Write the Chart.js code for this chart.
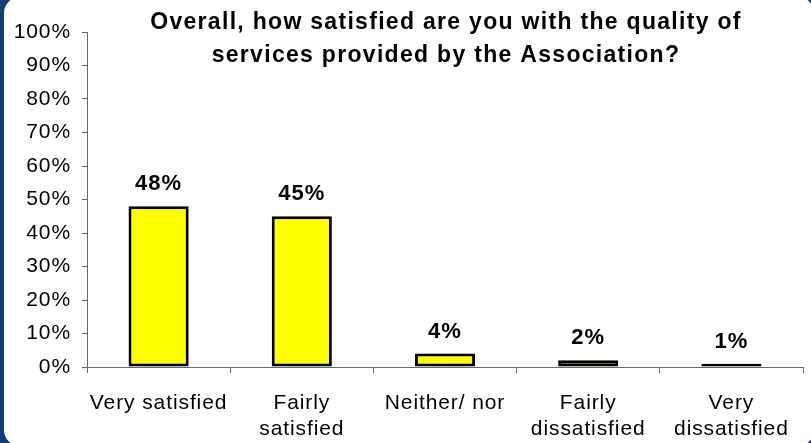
<!DOCTYPE html>
<html>
<head>
<meta charset="utf-8">
<script src="https://cdn.jsdelivr.net/npm/chart.js@4"></script>
<style>
  html, body { margin: 0; padding: 0; }
  body { width: 811px; height: 443px; background: #0f3d75; position: relative; overflow: hidden; }
  #panel { position: absolute; left: 4px; top: -3px; width: 810px; height: 449px; background: #ffffff; border-radius: 16px; }
  #wrap { position: absolute; left: 0; top: 0; width: 811px; height: 443px; }
</style>
</head>
<body>
<div id="panel"></div>
<div id="wrap"><canvas id="chart" width="811" height="443"></canvas></div>
<script>
const categories = [
  'Very satisfied',
  ['Fairly', 'satisfied'],
  'Neither/ nor',
  ['Fairly', 'dissatisfied'],
  ['Very', 'dissatisfied']
];
const shares = [48, 45, 4, 2, 1];
const yTicks = [0, 10, 20, 30, 40, 50, 60, 70, 80, 90, 100];
const titleLines = [
  'Overall, how satisfied are you with the quality of',
  'services provided by the Association?'
];

const FONT = '"Liberation Sans", Arial, sans-serif';

// Slightly open letter spacing for all chart text
const spacing = {
  id: 'spacing',
  beforeDraw(chart) {
    chart.ctx.letterSpacing = '0.9px';
  }
};

// Bold percentage above each bar, taken from the bar's own value
const valueLabels = {
  id: 'valueLabels',
  afterDatasetsDraw(chart) {
    const ctx = chart.ctx;
    const meta = chart.getDatasetMeta(0);
    ctx.save();
    ctx.letterSpacing = '1px';
    ctx.font = 'bold 22px ' + FONT;
    ctx.fillStyle = '#000';
    ctx.textAlign = 'center';
    ctx.textBaseline = 'alphabetic';
    meta.data.forEach((bar, i) => {
      ctx.fillText(shares[i] + '%', bar.x, bar.y - 16);
    });
    ctx.restore();
  }
};

// Two-line heading drawn over the upper part of the plot
const heading = {
  id: 'heading',
  afterDraw(chart) {
    const ctx = chart.ctx;
    const area = chart.chartArea;
    const cx = (area.left + area.right) / 2;
    ctx.save();
    ctx.letterSpacing = '1.3px';
    ctx.font = 'bold 23px ' + FONT;
    ctx.fillStyle = '#000';
    ctx.textAlign = 'center';
    ctx.textBaseline = 'alphabetic';
    ctx.fillText(titleLines[0], cx + 1, 29);
    ctx.fillText(titleLines[1], cx + 1, 62);
    ctx.restore();
  }
};

new Chart(document.getElementById('chart'), {
  type: 'bar',
  data: {
    labels: categories,
    datasets: [{
      data: shares,
      backgroundColor: '#ffff00',
      borderColor: '#000000',
      borderWidth: 3,
      borderSkipped: false,
      barPercentage: 0.84,
      categoryPercentage: 0.5
    }]
  },
  options: {
    responsive: false,
    animation: false,
    layout: { padding: { left: 0, right: 8, top: 32, bottom: 0 } },
    plugins: {
      legend: { display: false },
      title: { display: false },
      tooltip: { enabled: false }
    },
    scales: {
      x: {
        grid: { display: true, drawOnChartArea: false, drawTicks: true, tickLength: 6, color: '#666', offset: true },
        border: { display: true, color: '#666', width: 1 },
        ticks: {
          color: '#000',
          font: { family: FONT, size: 21, lineHeight: 1.25 },
          padding: 17,
          maxRotation: 0,
          autoSkip: false
        },
        afterFit(scale) { scale.height = 76; }
      },
      y: {
        min: 0,
        max: 100,
        afterBuildTicks(scale) { scale.ticks = yTicks.map(v => ({ value: v })); },
        grid: { display: true, drawOnChartArea: false, drawTicks: true, tickLength: 5, color: '#666' },
        border: { display: true, color: '#666', width: 1 },
        ticks: {
          color: '#000',
          font: { family: FONT, size: 21 },
          padding: 11,
          callback: v => v + '%'
        },
        afterFit(scale) { scale.width = 87; }
      }
    }
  },
  plugins: [spacing, valueLabels, heading]
});
</script>
</body>
</html>
